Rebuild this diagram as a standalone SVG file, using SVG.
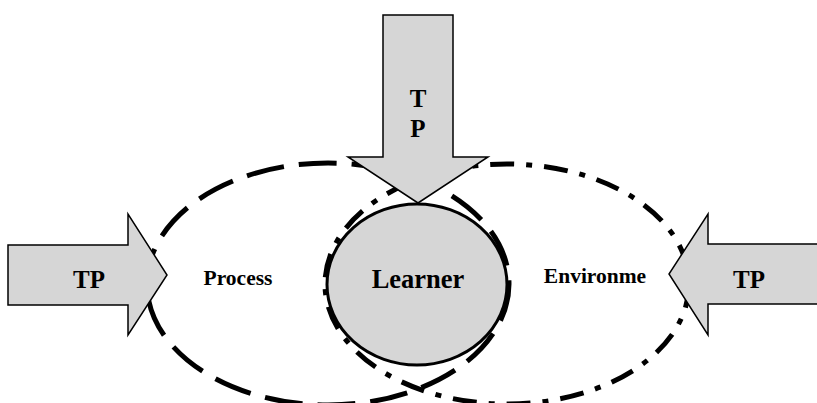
<svg xmlns="http://www.w3.org/2000/svg" width="817" height="403" viewBox="0 0 817 403">
  <style>
    .arrow { fill: #d6d6d6; stroke: #000; stroke-width: 1.5; stroke-linejoin: miter; }
    .label { font-family: "Liberation Serif", "Times New Roman", serif; font-weight: bold; fill: #000; text-anchor: middle; }
    .zone { fill: none; stroke: #000; stroke-width: 5; }
    .process { stroke-dasharray: 38 15; }
    .environment { stroke-dasharray: 24 12 6 12; }
  </style>
  <rect width="817" height="403" fill="#fff"/>

  <g id="connectors">
    <!-- overlapping zones -->
    <ellipse class="zone process" cx="328" cy="284" rx="181" ry="121"/>
    <ellipse class="zone environment" cx="507" cy="284" rx="182" ry="120"/>
  </g>

  <g id="learner">
    <ellipse cx="417" cy="284.5" rx="90" ry="80.5" fill="#d6d6d6" stroke="#000" stroke-width="3"/>
    <text class="label" x="418" y="288" font-size="26.5">Learner</text>
  </g>

  <g id="process">
    <text class="label" x="238" y="285" font-size="21.5">Process</text>
  </g>

  <g id="environment">
    <text class="label" x="595" y="283" font-size="21.5">Environme</text>
  </g>

  <g id="tp-left">
    <polygon class="arrow" points="8,245 128,245 128,214 167,275 128,335 128,305 8,305"/>
    <text class="label" x="89" y="288" font-size="25">TP</text>
  </g>

  <g id="tp-top">
    <polygon class="arrow" points="383,15 453,15 453,157 488,157 418,203 348,157 383,157"/>
    <text class="label" x="418" y="107" font-size="25">T</text>
    <text class="label" x="418" y="137" font-size="25">P</text>
  </g>

  <g id="tp-right">
    <polygon class="arrow" points="822,244 708,244 708,214 669,274 708,335 708,304 822,304"/>
    <text class="label" x="749" y="288" font-size="25">TP</text>
  </g>
</svg>
